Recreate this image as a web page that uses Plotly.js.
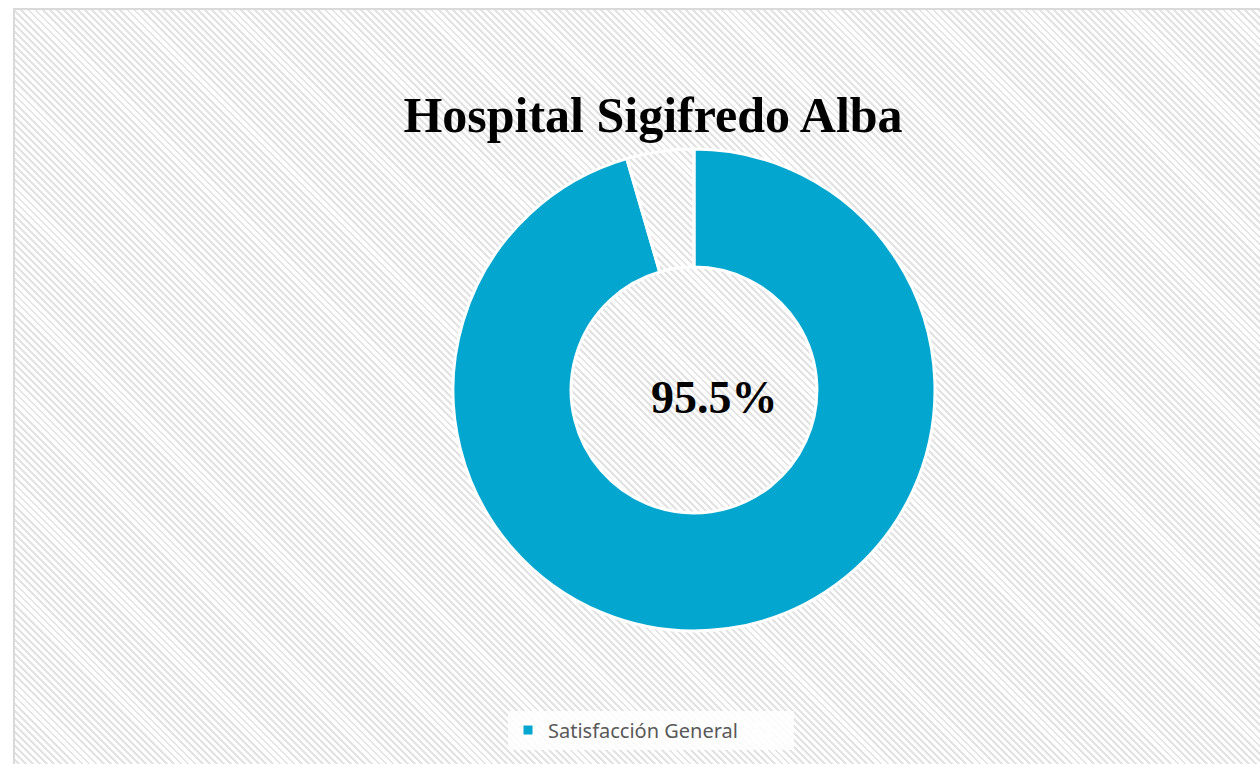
<!DOCTYPE html>
<html>
<head>
<meta charset="utf-8">
<script src="https://cdn.plot.ly/plotly-3.0.1.min.js"></script>
<style>
  html,body{margin:0;padding:0;background:#fff;}
  #wrap{position:relative;width:1260px;height:764px;overflow:hidden;}
  #back{position:absolute;left:13px;top:8px;width:1260px;height:770px;
    border-left:2px solid #d9d9d9;border-top:2px solid #d9d9d9;
    background:repeating-linear-gradient(45deg,#ffffff 0px,#ffffff 3px,#e3e3e3 3px,#e3e3e3 5px);}
  #chart{position:absolute;left:0;top:0;width:1260px;height:764px;}
</style>
</head>
<body>
<div id="wrap"><div id="back"></div><div id="chart"></div></div>
<script>
// donut: satisfaction vs remainder
const labels = ['Satisfacción General', ' '];
const values = [95.5, 4.5];
const colors = ['#02a6cf', 'rgba(255,255,255,0)'];
const centerLabel = '95.5%';
const chartTitle = 'Hospital Sigifredo Alba';

const W = 1260, H = 764;
const px = v => v / W, py = v => 1 - v / H;

const trace = {
  type: 'pie',
  labels: labels,
  values: values,
  sort: false,
  direction: 'clockwise',
  rotation: 0,
  hole: 0.51,
  textinfo: 'none',
  marker: {colors: colors, line: {color: '#ffffff', width: 3}},
  domain: {x: [px(453), px(935)], y: [py(631), py(149)]},
  showlegend: true
};

const layout = {
  width: W, height: H,
  margin: {l: 0, r: 0, t: 0, b: 0},
  paper_bgcolor: 'rgba(0,0,0,0)',
  plot_bgcolor: 'rgba(0,0,0,0)',
  title: {
    text: '<b>' + chartTitle + '</b>',
    font: {family: 'Liberation Serif, serif', size: 50, color: '#000'},
    x: px(653), xanchor: 'center', xref: 'paper',
    y: py(114), yanchor: 'middle', yref: 'paper'
  },
  annotations: [{
    text: '<b>' + centerLabel + '</b>',
    x: px(714), y: py(397), xref: 'paper', yref: 'paper',
    xanchor: 'center', yanchor: 'middle', showarrow: false,
    font: {family: 'Liberation Serif, serif', size: 46, color: '#000'}
  }],
  legend: {
    orientation: 'h',
    x: px(651), xanchor: 'center',
    y: py(730), yanchor: 'middle',
    bgcolor: 'rgba(255,255,255,0.85)',
    font: {family: 'Noto Sans, sans-serif', size: 20, color: '#595959'},
    itemclick: false
  }
};

Plotly.newPlot('chart', [trace], layout, {displayModeBar: false, staticPlot: true});
</script>
</body>
</html>
